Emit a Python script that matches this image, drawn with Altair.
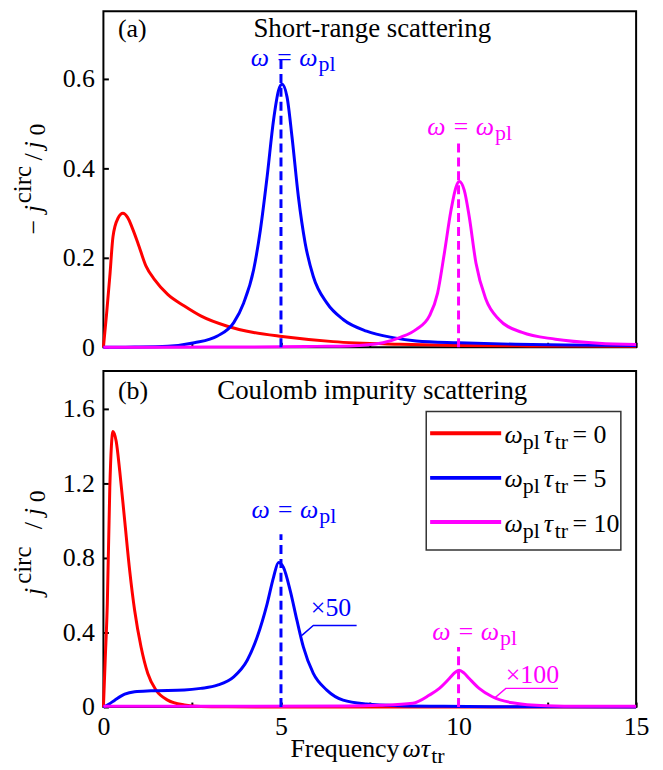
import altair as alt
import pandas as pd

FONT = "Liberation Serif"
RED, BLUE, MAG = "#ff0000", "#0000ff", "#ff00ff"

# ---------------- data ----------------
# panel (a) short-range scattering
a_red_x = [0, 0.09, 0.18, 0.27, 0.41, 0.55, 0.68, 0.82, 0.97, 1.2, 1.44, 1.81, 2.28, 2.74, 3.49, 4.23, 5.03, 6.47, 8.34, 10.0, 12.0, 15.0]
a_red_y = [0, 0.075, 0.158, 0.247, 0.288, 0.299, 0.29, 0.265, 0.233, 0.181, 0.151, 0.118, 0.092, 0.070, 0.047, 0.033, 0.024, 0.0126, 0.0067, 0.004, 0.003, 0.002]

a_blue_x = [0, 0.88, 1.81, 2.56, 3.21, 3.67, 3.95, 4.23, 4.42, 4.61, 4.79, 4.93, 5.03, 5.17, 5.31, 5.49, 5.68, 5.91, 6.29, 6.75, 7.41, 8.15, 8.81, 10.0, 11.6, 13.0, 15.0]
a_blue_y = [0, 0.0005, 0.0022, 0.010, 0.025, 0.055, 0.099, 0.173, 0.262, 0.381, 0.507, 0.573, 0.587, 0.559, 0.470, 0.336, 0.233, 0.158, 0.099, 0.062, 0.036, 0.0215, 0.014, 0.010, 0.0067, 0.005, 0.004]

a_mag_x = [0, 3.0, 5.0, 6.0, 6.94, 7.87, 8.34, 8.81, 9.18, 9.41, 9.60, 9.79, 9.93, 10.02, 10.16, 10.30, 10.49, 10.77, 11.14, 11.79, 12.73, 13.94, 15.0]
a_mag_y = [0, 0.0005, 0.001, 0.002, 0.003, 0.010, 0.0215, 0.040, 0.070, 0.121, 0.210, 0.307, 0.358, 0.370, 0.351, 0.292, 0.188, 0.107, 0.062, 0.033, 0.018, 0.009, 0.006]

# panel (b) Coulomb impurity scattering (blue x50, magenta x100)
b_red_x = [0, 0.05, 0.11, 0.18, 0.27, 0.36, 0.46, 0.60, 0.74, 0.88, 1.06, 1.25, 1.48, 1.81, 2.28, 2.74, 3.5, 5.0, 15.0]
b_red_y = [0, 0.25, 0.553, 1.175, 1.477, 1.424, 1.264, 0.997, 0.731, 0.517, 0.322, 0.180, 0.091, 0.037, 0.011, 0.003, 0.001, 0, 0]

b_blue_x = [0, 0.15, 0.32, 0.60, 0.88, 1.34, 2.28, 2.74, 3.21, 3.67, 4.05, 4.33, 4.61, 4.79, 4.93, 5.07, 5.26, 5.45, 5.63, 5.91, 6.29, 6.75, 7.41, 8.34, 9.5, 11.0, 12.5, 15.0]
b_blue_y = [0, 0.015, 0.037, 0.069, 0.082, 0.087, 0.091, 0.100, 0.117, 0.162, 0.251, 0.375, 0.553, 0.695, 0.775, 0.748, 0.624, 0.464, 0.322, 0.180, 0.091, 0.037, 0.016, 0.007, 0.004, 0.002, 0.001, 0.0]

b_mag_x = [0, 3.0, 6.85, 7.78, 8.71, 9.18, 9.46, 9.74, 9.9, 10.02, 10.15, 10.30, 10.58, 10.95, 11.51, 12.45, 13.5, 15.0]
b_mag_y = [0.004, 0.004, 0.005, 0.009, 0.02, 0.064, 0.10, 0.153, 0.185, 0.197, 0.183, 0.153, 0.10, 0.055, 0.023, 0.007, 0.004, 0.004]

x_ticks = [0, 2.5, 5, 7.5, 10, 12.5, 15]
a_yticks = [0, 0.2, 0.4, 0.6]
b_yticks = [0, 0.4, 0.8, 1.2, 1.6]

legend_labels = ["0", "5", "10"]

# ---------------- layout ----------------
W, H1, H2 = 536, 338, 338
xs = alt.Scale(domain=[0, 15], nice=False, zero=False)
ys = {"a": alt.Scale(domain=[0, 0.75], nice=False), "b": alt.Scale(domain=[0, 1.8], nice=False)}
yt = {"a": a_yticks, "b": b_yticks}
LBL = 26


def X(panel, field="x"):
    return alt.X(f"{field}:Q", scale=xs, title=None, axis=alt.Axis(
        values=x_ticks, labels=(panel == "b"),
        labelExpr="datum.value % 5 === 0 ? datum.label : ''",
        domain=False, grid=False, ticks=True, tickSize=5, tickWidth=2, tickColor="black",
        offset=-5, labelPadding=7, labelFont=FONT, labelFontSize=LBL, labelColor="black",
        labelFlush=False))


def Y(panel, field="y"):
    return alt.Y(f"{field}:Q", scale=ys[panel], title=None, axis=alt.Axis(
        values=yt[panel], labelExpr="datum.value == 0 ? '0' : format(datum.value, '.1f')",
        domain=False, grid=False, ticks=True, tickSize=5, tickWidth=2, tickColor="black",
        offset=-5, labelPadding=9, labelFont=FONT, labelFontSize=LBL, labelColor="black",
        labelFlush=False))


def line(panel, xv, yv, color, width=3):
    df = pd.DataFrame({"x": xv, "y": yv})
    return alt.Chart(df).mark_line(color=color, strokeWidth=width, interpolate="monotone").encode(
        x=X(panel), y=Y(panel))


def poly(panel, xv, yv, color, width=1.5):
    df = pd.DataFrame({"x": xv, "y": yv, "o": list(range(len(xv)))})
    return alt.Chart(df).mark_line(color=color, strokeWidth=width).encode(
        x=X(panel), y=Y(panel), order="o:Q")


def dashed(panel, x, ytop, color):
    df = pd.DataFrame({"x": [x], "y": [0], "y2": [ytop]})
    return alt.Chart(df).mark_rule(color=color, strokeWidth=3, strokeDash=[9, 5]).encode(
        x=X(panel), y=Y(panel), y2="y2:Q")


def text(panel, x, y, t, color="black", size=26, style="normal", align="left", dx=0, dy=0):
    df = pd.DataFrame({"x": [x], "y": [y], "t": [t]})
    return alt.Chart(df).mark_text(font=FONT, fontSize=size, fontStyle=style, align=align,
                                   baseline="alphabetic", dx=dx, dy=dy, color=color).encode(
        x=X(panel), y=Y(panel), text="t:N")


def ptext(px, py, t, size=26, style="normal", align="left", dx=0, dy=0, angle=0):
    df = pd.DataFrame({"t": [t]})
    return alt.Chart(df).mark_text(font=FONT, fontSize=size, fontStyle=style, align=align,
                                   baseline="alphabetic", dx=dx, dy=dy, angle=angle,
                                   color="black").encode(
        x=alt.value(px), y=alt.value(py), text="t:N")


def wpl(panel, x, y, color):
    return [text(panel, x, y, "ω = ω", color=color, style="italic", align="right"),
            text(panel, x, y, "pl", color=color, size=22, align="left", dx=1, dy=5)]


# ---------------- panel (a) ----------------
layers_a = [
    line("a", a_red_x, a_red_y, RED),
    line("a", a_blue_x, a_blue_y, BLUE),
    line("a", a_mag_x, a_mag_y, MAG),
    dashed("a", 5, 0.651, BLUE),
    dashed("a", 10, 0.456, MAG),
    text("a", 0.41, 0.692, "(a)"),
    text("a", 7.57, 0.692, "Short-range scattering", size=27, align="center"),
    *wpl("a", 6.03, 0.629, BLUE),
    *wpl("a", 11.0, 0.473, MAG),
    # rotated y title  -j^circ / j0
    ptext(-62, 195, "− j", style="italic", align="right", angle=270),
    ptext(-62, 195, "circ", size=25, align="left", dx=2, dy=-11, angle=270),
    ptext(-62, 195, "/", align="left", dx=45, angle=270),
    ptext(-62, 195, "j", style="italic", align="left", dx=57, angle=270),
    ptext(-62, 195, "0", size=24, align="left", dx=70, dy=3, angle=270),
]
panel_a = alt.layer(*layers_a).properties(width=W, height=H1)

# ---------------- panel (b) ----------------
leg_rows = pd.DataFrame({"x": [9.2] * 3, "x2": [11.2] * 3, "y": [1.467, 1.228, 0.992],
                         "s": legend_labels})
leg_lines = alt.Chart(leg_rows).mark_rule(strokeWidth=4).encode(
    x=X("b"), x2="x2:Q", y=Y("b"),
    color=alt.Color("s:N", scale=alt.Scale(domain=legend_labels, range=[RED, BLUE, MAG]), legend=None))
leg_box = alt.Chart(pd.DataFrame({"x": [9.09], "x2": [14.57], "y": [0.841], "y2": [1.584]})).mark_rect(
    fill="white", stroke="#333333", strokeWidth=1.5).encode(x=X("b"), x2="x2:Q", y=Y("b"), y2="y2:Q")

leg_text = []
for lab, yb in zip(legend_labels, [1.415, 1.179, 0.940]):
    leg_text += [
        text("b", 11.81, yb, "ω", style="italic", align="right"),
        text("b", 11.81, yb, "pl", size=22, dx=0, dy=6),
        text("b", 11.81, yb, "τ", style="italic", dx=21),
        text("b", 11.81, yb, "tr", size=22, dx=32, dy=6),
        text("b", 11.81, yb, "= " + lab, dx=50),
    ]

layers_b = [
    line("b", b_red_x, b_red_y, RED),
    line("b", b_blue_x, b_blue_y, BLUE),
    line("b", b_mag_x, b_mag_y, MAG),
    dashed("b", 5, 0.926, BLUE),
    dashed("b", 10, 0.322, MAG),
    text("b", 0.41, 1.653, "(b)"),
    text("b", 7.57, 1.653, "Coulomb impurity scattering", size=27, align="center"),
    *wpl("b", 6.05, 1.015, BLUE),
    *wpl("b", 11.14, 0.357, MAG),
    text("b", 5.84, 0.49, "×50", color=BLUE),
    text("b", 11.33, 0.13, "×100", color=MAG),
    poly("b", [5.59, 5.91, 7.13], [0.384, 0.437, 0.437], BLUE),
    poly("b", [11.0, 11.33, 12.80], [0.046, 0.10, 0.10], MAG),
    leg_box,
    leg_lines,
    *leg_text,
    # x title: Frequency ωτ_tr
    text("b", 8.42, 0, "Frequency", align="right", dx=-3, dy=50),
    text("b", 8.42, 0, "ωτ", style="italic", align="left", dy=50),
    text("b", 8.42, 0, "tr", size=22, align="left", dx=29, dy=56),
    # rotated y title  j^circ / j0
    ptext(-62, 218, "j", style="italic", align="right", angle=270),
    ptext(-62, 218, "circ", size=25, align="left", dx=4, dy=-11, angle=270),
    ptext(-62, 218, "/", align="left", dx=59, angle=270),
    ptext(-62, 218, "j", style="italic", align="left", dx=73, angle=270),
    ptext(-62, 218, "0", size=24, align="left", dx=86, dy=3, angle=270),
]
panel_b = alt.layer(*layers_b).properties(width=W, height=H2)

chart = alt.vconcat(panel_a, panel_b, spacing=9).properties(
    padding={"left": 2, "top": 0, "right": 5, "bottom": 2}
).configure_view(stroke="black", strokeWidth=2).configure_axis(
    labelFont=FONT).configure_text(font=FONT)

chart.save("out.html", embed_options={"renderer": "svg", "actions": False})
